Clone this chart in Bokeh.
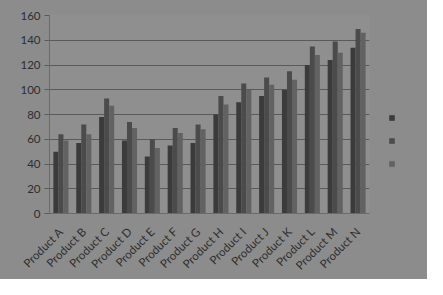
from bokeh.plotting import figure
from bokeh.models import FactorRange, Legend, LegendItem, FixedTicker, ColumnDataSource
from bokeh.layouts import row
from bokeh.transform import dodge
from bokeh.embed import file_html
from bokeh.resources import INLINE

products = ["Product A", "Product B", "Product C", "Product D", "Product E", "Product F",
            "Product G", "Product H", "Product I", "Product J", "Product K", "Product L",
            "Product M", "Product N"]
series1 = [50, 57, 78, 59, 46, 55, 57, 80, 90, 95, 100, 120, 124, 134]
series2 = [64, 72, 93, 74, 60, 69, 72, 95, 105, 110, 115, 135, 139, 149]
series3 = [59, 64, 87, 69, 53, 65, 68, 88, 100, 104, 108, 128, 130, 146]
y_ticks = [0, 20, 40, 60, 80, 100, 120, 140, 160]

colors = ["#3b3b3b", "#4b4b4b", "#626262"]
bg = "#8c8c8c"

src = ColumnDataSource(dict(x=products, s1=series1, s2=series2, s3=series3))

p = figure(x_range=FactorRange(*products), y_range=(0, 160), width=380, height=279,
           output_backend="svg", toolbar_location=None,
           min_border_left=49, min_border_right=11, min_border_top=15, min_border_bottom=66)
p.background_fill_color = "#8f8f8f"
p.border_fill_color = bg
p.outline_line_color = None

w = 0.22
offs = [-0.22, 0.0, 0.22]
cols = ["s1", "s2", "s3"]
for o, c, col in zip(offs, cols, colors):
    p.vbar(x=dodge("x", o, range=p.x_range), top=c, width=w, source=src,
           fill_color=col, line_color=None)

p.xgrid.grid_line_color = None
p.ygrid.grid_line_color = "#5a5a5a"
p.ygrid.grid_line_width = 1
p.yaxis.ticker = FixedTicker(ticks=y_ticks)
p.yaxis.axis_line_color = "#6a6a6a"
p.yaxis.major_tick_line_color = "#5a5a5a"
p.yaxis.major_tick_out = 5
p.yaxis.major_tick_in = 0
p.yaxis.minor_tick_line_color = None
p.yaxis.major_label_text_font = "Lato"
p.yaxis.major_label_text_font_size = "11.5px"
p.yaxis.major_label_text_color = "#2e2e2e"
p.yaxis.major_label_standoff = 4

p.xaxis.axis_line_color = "#6a6a6a"
p.xaxis.major_tick_line_color = None
p.xaxis.major_label_orientation = 0.785
p.xaxis.major_label_text_font = "Lato"
p.xaxis.major_label_text_font_size = "11.5px"
p.xaxis.major_label_text_color = "#2e2e2e"
p.xaxis.major_label_standoff = 10

# legend panel (markers only, no labels, as in the reference)
p2 = figure(x_range=p.x_range, y_range=p.y_range, width=47, height=279,
            output_backend="svg", toolbar_location=None,
            x_axis_location=None, y_axis_location=None,
            min_border_left=0, min_border_right=0, min_border_top=15, min_border_bottom=66)
p2.background_fill_color = bg
p2.border_fill_color = bg
p2.outline_line_color = None
p2.grid.grid_line_color = None
lr = []
for o, c, col in zip(offs, cols, colors):
    lr.append(p2.vbar(x=dodge("x", o, range=p2.x_range), top=c, width=w, source=src,
                      fill_color=col, line_color=None, visible=False))

legend = Legend(items=[LegendItem(label=" ", renderers=[r]) for r in lr],
                location=(8, 46), background_fill_alpha=0, border_line_color=None,
                glyph_width=7, glyph_height=7, spacing=16, label_standoff=0,
                label_width=5, label_height=7, label_text_font_size="6px",
                margin=0, padding=0)
p2.add_layout(legend, "center")

layout = row(p, p2, spacing=0, styles={"background-color": bg})
open("out.html", "w").write(file_html(layout, INLINE))
